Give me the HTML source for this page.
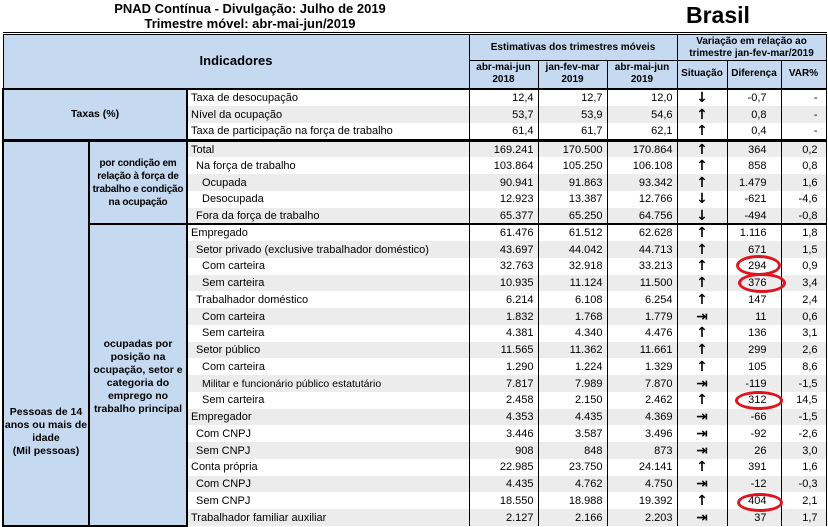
<!DOCTYPE html>
<html><head><meta charset="utf-8"><style>
body{margin:0;width:828px;height:527px;overflow:hidden;background:#fff;font-family:"Liberation Sans",Arial,sans-serif;position:relative}
.t1{position:absolute;left:80px;top:1px;width:340px;text-align:center;font-weight:bold;font-size:13px;line-height:15px;white-space:nowrap}
.br{position:absolute;left:686px;top:2px;font-weight:bold;font-size:23px;line-height:26px}
table{position:absolute;left:2px;top:32px;border-collapse:collapse;table-layout:fixed;width:823px;font-size:11px}
td{padding:0;overflow:hidden;white-space:nowrap;border-left:1px solid #000;border-right:1px solid #000;line-height:12px}
.hd{background:#c5d9f0;font-weight:bold;text-align:center;border:1px solid #000;white-space:normal;line-height:12px}
.lb{background:#c5d9f0;font-weight:bold;text-align:center;white-space:normal;line-height:13px;border:2px solid #000;font-size:10.5px}
.n{text-align:right;padding-right:4px}
.c{text-align:center}
.l{padding-left:3px}
.g td.z{background:#ececec}
.ar{font-weight:bold;font-size:14px;font-family:"DejaVu Sans",sans-serif}
.e{position:absolute;border:3px solid #e0141e;border-radius:50%;box-sizing:border-box}
tr.r{height:16.75px}
</style></head><body>
<div class="t1">PNAD Contínua - Divulgação: Julho de 2019<br>Trimestre móvel: abr-mai-jun/2019</div>
<div class="br">Brasil</div>
<table>
<colgroup><col style="width:86px"><col style="width:98px"><col style="width:282px"><col style="width:69px"><col style="width:69px"><col style="width:70px"><col style="width:50px"><col style="width:54px"><col style="width:45px"></colgroup>
<tr style="height:27px"><td class="hd" colspan="3" rowspan="2" style="font-size:13px;border-top:3px double #000">Indicadores</td><td class="hd" colspan="3" style="font-size:10px;border-top:3px double #000">Estimativas dos trimestres móveis</td><td class="hd" colspan="3" style="font-size:10px;border-top:3px double #000">Variação em relação ao trimestre jan-fev-mar/2019</td></tr>
<tr style="height:28px"><td class="hd" style="font-size:10px">abr-mai-jun 2018</td><td class="hd" style="font-size:10px">jan-fev-mar 2019</td><td class="hd" style="font-size:10px">abr-mai-jun 2019</td><td class="hd" style="font-size:10px">Situação</td><td class="hd" style="font-size:10px">Diferença</td><td class="hd" style="font-size:10px">VAR%</td></tr>
<tr style="height:17.4px;border-top:2px solid #000"><td class="lb" colspan="2" rowspan="3">Taxas (%)</td><td class="z l">Taxa de desocupação</td><td class="z n">12,4</td><td class="z n">12,7</td><td class="z n">12,0</td><td class="z c ar">↓</td><td class="z n" style="padding-right:14px">-0,7</td><td class="z n" style="padding-right:8px">-</td></tr>
<tr style="height:17.4px" class="g"><td class="z l">Nível da ocupação</td><td class="z n">53,7</td><td class="z n">53,9</td><td class="z n">54,6</td><td class="z c ar">↑</td><td class="z n" style="padding-right:14px">0,8</td><td class="z n" style="padding-right:8px">-</td></tr>
<tr style="height:17.4px"><td class="z l">Taxa de participação na força de trabalho</td><td class="z n">61,4</td><td class="z n">61,7</td><td class="z n">62,1</td><td class="z c ar">↑</td><td class="z n" style="padding-right:14px">0,4</td><td class="z n" style="padding-right:8px">-</td></tr>
<tr class="r g" style="border-top:3px solid #000"><td class="lb" rowspan="23" style="vertical-align:top;padding-top:264px;font-size:10.5px">Pessoas de 14 anos ou mais de idade<br>(Mil pessoas)</td><td class="lb" rowspan="5" style="font-size:10px;letter-spacing:-0.2px">por condição em relação à força de trabalho e condição na ocupação</td><td class="z l">Total</td><td class="z n">169.241</td><td class="z n">170.500</td><td class="z n">170.864</td><td class="z c ar">↑</td><td class="z n" style="padding-right:14px">364</td><td class="z n" style="padding-right:8px">0,2</td></tr>
<tr class="r"><td class="z l" style="padding-left:8px">Na força de trabalho</td><td class="z n">103.864</td><td class="z n">105.250</td><td class="z n">106.108</td><td class="z c ar">↑</td><td class="z n" style="padding-right:14px">858</td><td class="z n" style="padding-right:8px">0,8</td></tr>
<tr class="r g"><td class="z l" style="padding-left:14px">Ocupada</td><td class="z n">90.941</td><td class="z n">91.863</td><td class="z n">93.342</td><td class="z c ar">↑</td><td class="z n" style="padding-right:14px">1.479</td><td class="z n" style="padding-right:8px">1,6</td></tr>
<tr class="r"><td class="z l" style="padding-left:14px">Desocupada</td><td class="z n">12.923</td><td class="z n">13.387</td><td class="z n">12.766</td><td class="z c ar">↓</td><td class="z n" style="padding-right:14px">-621</td><td class="z n" style="padding-right:8px">-4,6</td></tr>
<tr class="r g"><td class="z l" style="padding-left:8px">Fora da força de trabalho</td><td class="z n">65.377</td><td class="z n">65.250</td><td class="z n">64.756</td><td class="z c ar">↓</td><td class="z n" style="padding-right:14px">-494</td><td class="z n" style="padding-right:8px">-0,8</td></tr>
<tr class="r" style="border-top:2px solid #000"><td class="lb" rowspan="18" style="font-size:10.5px;vertical-align:top;padding-top:113px">ocupadas por posição na ocupação, setor e categoria do emprego no trabalho principal</td><td class="z l">Empregado</td><td class="z n">61.476</td><td class="z n">61.512</td><td class="z n">62.628</td><td class="z c ar">↑</td><td class="z n" style="padding-right:14px">1.116</td><td class="z n" style="padding-right:8px">1,8</td></tr>
<tr class="r g"><td class="z l" style="padding-left:8px">Setor privado (exclusive trabalhador doméstico)</td><td class="z n">43.697</td><td class="z n">44.042</td><td class="z n">44.713</td><td class="z c ar">↑</td><td class="z n" style="padding-right:14px">671</td><td class="z n" style="padding-right:8px">1,5</td></tr>
<tr class="r"><td class="z l" style="padding-left:14px">Com carteira</td><td class="z n">32.763</td><td class="z n">32.918</td><td class="z n">33.213</td><td class="z c ar">↑</td><td class="z n" style="padding-right:14px">294</td><td class="z n" style="padding-right:8px">0,9</td></tr>
<tr class="r g"><td class="z l" style="padding-left:14px">Sem carteira</td><td class="z n">10.935</td><td class="z n">11.124</td><td class="z n">11.500</td><td class="z c ar">↑</td><td class="z n" style="padding-right:14px">376</td><td class="z n" style="padding-right:8px">3,4</td></tr>
<tr class="r"><td class="z l" style="padding-left:8px">Trabalhador doméstico</td><td class="z n">6.214</td><td class="z n">6.108</td><td class="z n">6.254</td><td class="z c ar">↑</td><td class="z n" style="padding-right:14px">147</td><td class="z n" style="padding-right:8px">2,4</td></tr>
<tr class="r g"><td class="z l" style="padding-left:14px">Com carteira</td><td class="z n">1.832</td><td class="z n">1.768</td><td class="z n">1.779</td><td class="z c ar">⇥</td><td class="z n" style="padding-right:14px">11</td><td class="z n" style="padding-right:8px">0,6</td></tr>
<tr class="r"><td class="z l" style="padding-left:14px">Sem carteira</td><td class="z n">4.381</td><td class="z n">4.340</td><td class="z n">4.476</td><td class="z c ar">↑</td><td class="z n" style="padding-right:14px">136</td><td class="z n" style="padding-right:8px">3,1</td></tr>
<tr class="r g"><td class="z l" style="padding-left:8px">Setor público</td><td class="z n">11.565</td><td class="z n">11.362</td><td class="z n">11.661</td><td class="z c ar">↑</td><td class="z n" style="padding-right:14px">299</td><td class="z n" style="padding-right:8px">2,6</td></tr>
<tr class="r"><td class="z l" style="padding-left:14px">Com carteira</td><td class="z n">1.290</td><td class="z n">1.224</td><td class="z n">1.329</td><td class="z c ar">↑</td><td class="z n" style="padding-right:14px">105</td><td class="z n" style="padding-right:8px">8,6</td></tr>
<tr class="r g"><td class="z l" style="padding-left:14px;font-size:10.5px">Militar e funcionário público estatutário</td><td class="z n">7.817</td><td class="z n">7.989</td><td class="z n">7.870</td><td class="z c ar">⇥</td><td class="z n" style="padding-right:14px">-119</td><td class="z n" style="padding-right:8px">-1,5</td></tr>
<tr class="r"><td class="z l" style="padding-left:14px">Sem carteira</td><td class="z n">2.458</td><td class="z n">2.150</td><td class="z n">2.462</td><td class="z c ar">↑</td><td class="z n" style="padding-right:14px">312</td><td class="z n" style="padding-right:8px">14,5</td></tr>
<tr class="r g"><td class="z l">Empregador</td><td class="z n">4.353</td><td class="z n">4.435</td><td class="z n">4.369</td><td class="z c ar">⇥</td><td class="z n" style="padding-right:14px">-66</td><td class="z n" style="padding-right:8px">-1,5</td></tr>
<tr class="r"><td class="z l" style="padding-left:8px">Com CNPJ</td><td class="z n">3.446</td><td class="z n">3.587</td><td class="z n">3.496</td><td class="z c ar">⇥</td><td class="z n" style="padding-right:14px">-92</td><td class="z n" style="padding-right:8px">-2,6</td></tr>
<tr class="r g"><td class="z l" style="padding-left:8px">Sem CNPJ</td><td class="z n">908</td><td class="z n">848</td><td class="z n">873</td><td class="z c ar">⇥</td><td class="z n" style="padding-right:14px">26</td><td class="z n" style="padding-right:8px">3,0</td></tr>
<tr class="r"><td class="z l">Conta própria</td><td class="z n">22.985</td><td class="z n">23.750</td><td class="z n">24.141</td><td class="z c ar">↑</td><td class="z n" style="padding-right:14px">391</td><td class="z n" style="padding-right:8px">1,6</td></tr>
<tr class="r g"><td class="z l" style="padding-left:8px">Com CNPJ</td><td class="z n">4.435</td><td class="z n">4.762</td><td class="z n">4.750</td><td class="z c ar">⇥</td><td class="z n" style="padding-right:14px">-12</td><td class="z n" style="padding-right:8px">-0,3</td></tr>
<tr class="r"><td class="z l" style="padding-left:8px">Sem CNPJ</td><td class="z n">18.550</td><td class="z n">18.988</td><td class="z n">19.392</td><td class="z c ar">↑</td><td class="z n" style="padding-right:14px">404</td><td class="z n" style="padding-right:8px">2,1</td></tr>
<tr class="r g"><td class="z l">Trabalhador familiar auxiliar</td><td class="z n">2.127</td><td class="z n">2.166</td><td class="z n">2.203</td><td class="z c ar">⇥</td><td class="z n" style="padding-right:14px">37</td><td class="z n" style="padding-right:8px">1,7</td></tr>
</table>
<div class="e" style="left:736px;top:255px;width:45px;height:21px"></div>
<div class="e" style="left:738px;top:273px;width:48px;height:20px"></div>
<div class="e" style="left:735px;top:391px;width:48px;height:19px"></div>
<div class="e" style="left:737px;top:493px;width:46px;height:19px"></div>
</body></html>
